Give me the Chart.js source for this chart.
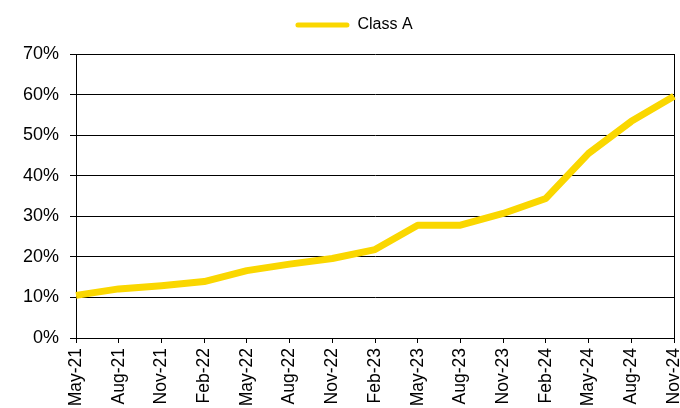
<!DOCTYPE html>
<html>
<head>
<meta charset="utf-8">
<script src="https://cdn.jsdelivr.net/npm/chart.js@4.4.0/dist/chart.umd.min.js"></script>
<style>
  html, body { margin: 0; padding: 0; background: #fff; overflow: hidden; }
  #wrap { width: 680px; height: 408px; position: relative; }
</style>
</head>
<body>
<div id="wrap"><canvas id="chart"></canvas></div>
<script>
// quarterly dates
const labels = ['May-21', 'Aug-21', 'Nov-21', 'Feb-22', 'May-22', 'Aug-22', 'Nov-22', 'Feb-23',
  'May-23', 'Aug-23', 'Nov-23', 'Feb-24', 'May-24', 'Aug-24', 'Nov-24'];

// share, in percent
const classA = [10.5, 12.1, 12.9, 13.9, 16.6, 18.2, 19.6, 21.8, 27.8, 27.8, 30.7, 34.4, 45.5, 53.4, 59.6];

const yTicks = [0, 10, 20, 30, 40, 50, 60, 70];

const GOLD = '#FAD700';
const FONT = "'Liberation Sans', Arial, sans-serif";

// legend sits a bit right of centre, with extra room below it
const legendTweak = {
  id: 'legendTweak',
  beforeInit(chart) {
    const legend = chart.legend;
    const fit = legend.fit;
    const draw = legend.draw;
    legend.fit = function () {
      fit.call(this);
      this.height += 11;
    };
    legend.draw = function () {
      const ctx = this.ctx;
      ctx.save();
      ctx.translate(17, 0);
      draw.call(this);
      ctx.restore();
    };
  }
};

new Chart(document.getElementById('chart'), {
  type: 'line',
  data: {
    labels: labels,
    datasets: [{
      label: 'Class A',
      data: classA,
      borderColor: GOLD,
      backgroundColor: GOLD,
      borderWidth: 7,
      borderJoinStyle: 'round',
      pointRadius: 0,
      tension: 0,
      fill: false
    }]
  },
  plugins: [legendTweak],
  options: {
    responsive: true,
    maintainAspectRatio: false,
    animation: false,
    layout: { padding: { top: 7, right: 6, left: 0, bottom: 0 } },
    plugins: {
      tooltip: { enabled: false },
      legend: {
        position: 'top',
        labels: {
          font: { family: FONT, size: 16 },
          color: '#000',
          boxWidth: 54,
          boxHeight: 5,
          padding: 10,
          generateLabels: chart =>
            Chart.defaults.plugins.legend.labels.generateLabels(chart)
              .map(l => ({ ...l, lineWidth: 0, borderRadius: 2.5 }))
        }
      }
    },
    scales: {
      x: {
        grid: {
          color: ctx => ctx.index === labels.length - 1 ? '#000' : 'rgba(0,0,0,0)',
          tickColor: '#000',
          tickLength: 5,
          lineWidth: 1
        },
        border: { color: '#000', width: 1 },
        ticks: {
          autoSkip: false,
          minRotation: 90,
          maxRotation: 90,
          padding: 5,
          color: '#000',
          font: { family: FONT, size: 17.5 }
        },
        afterFit: scale => {
          scale.height = 70;
          scale.paddingLeft = 0;
          scale.paddingRight = 0;
        }
      },
      y: {
        min: 0,
        max: 70,
        afterBuildTicks: scale => {
          scale.ticks = yTicks.map(v => ({ value: v }));
        },
        grid: { color: '#000', lineWidth: 1, tickLength: 6 },
        border: { color: '#000', width: 1 },
        ticks: {
          padding: 11,
          color: '#000',
          font: { family: FONT, size: 18 },
          callback: v => v + '%'
        },
        afterFit: scale => { scale.width = 76; }
      }
    }
  }
});
</script>
</body>
</html>
